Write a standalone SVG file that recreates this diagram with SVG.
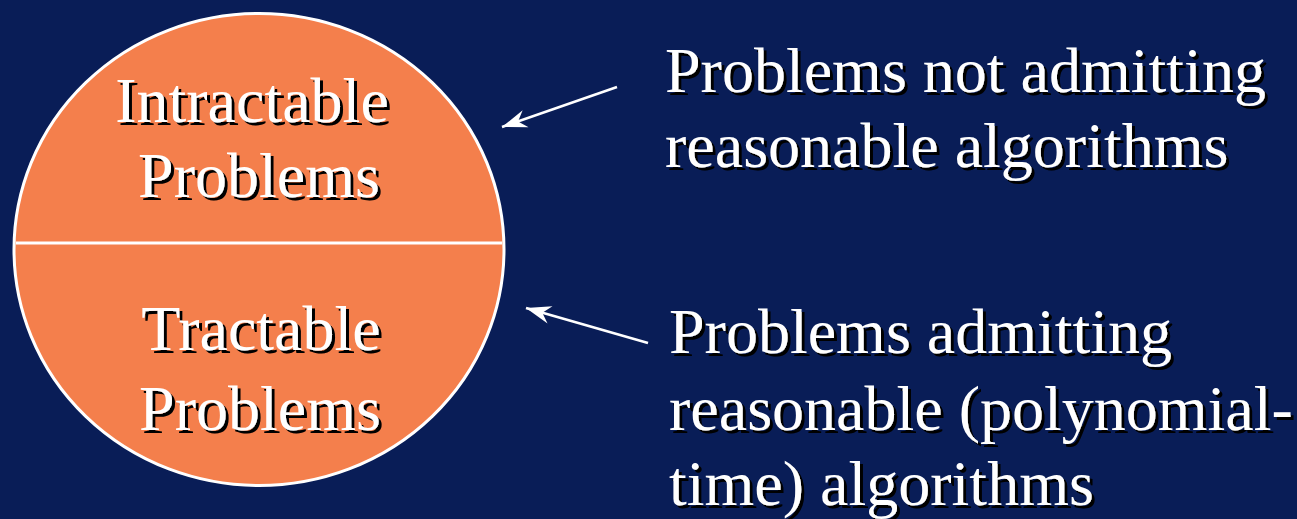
<svg xmlns="http://www.w3.org/2000/svg" width="1297" height="519" viewBox="0 0 1297 519">
  <style>
    .lbl { font-family: "Liberation Serif", "Times New Roman", serif; font-size: 64px; fill: #ffffff; filter: url(#drop); }
    .mid { text-anchor: middle; }
    .conn { stroke: #ffffff; stroke-width: 2.6; fill: none; }
  </style>
  <defs>
    <!-- hard black drop shadow under the lettering -->
    <filter id="drop" x="-5%" y="-20%" width="115%" height="150%">
      <feOffset in="SourceAlpha" dx="3" dy="3" result="off"/>
      <feFlood flood-color="#000000"/>
      <feComposite in2="off" operator="in" result="shade"/>
      <feMerge>
        <feMergeNode in="shade"/>
        <feMergeNode in="SourceGraphic"/>
      </feMerge>
    </filter>
    <marker id="barb" markerUnits="userSpaceOnUse" viewBox="-26 -10 28 20" markerWidth="28" markerHeight="20" refX="0" refY="0" orient="auto">
      <path d="M0,0 L-25,-9 L-17,0 L-25,9 Z" fill="#ffffff"/>
    </marker>
  </defs>

  <rect x="0" y="0" width="1297" height="519" fill="#091d57"/>

  <!-- problem space: intractable over tractable -->
  <g id="problem-space">
    <ellipse cx="259" cy="249.5" rx="245" ry="236" fill="#f47f4c" stroke="#ffffff" stroke-width="3"/>
    <line x1="16" y1="243" x2="502" y2="243" stroke="#ffffff" stroke-width="3"/>
  </g>

  <g id="intractable">
    <text class="lbl mid" x="252" y="122">Intractable</text>
    <text class="lbl mid" x="259" y="197">Problems</text>
  </g>

  <g id="tractable">
    <text class="lbl mid" x="261" y="350">Tractable</text>
    <text class="lbl mid" x="260" y="430">Problems</text>
  </g>

  <g id="note-unreasonable">
    <text class="lbl" x="665" y="92">Problems not admitting</text>
    <text class="lbl" x="665" y="167">reasonable algorithms</text>
  </g>

  <g id="note-reasonable">
    <text class="lbl" x="669" y="353">Problems admitting</text>
    <text class="lbl" x="669" y="430">reasonable (polynomial-</text>
    <text class="lbl" x="669" y="505">time) algorithms</text>
  </g>

  <g id="connectors">
    <line class="conn" x1="617" y1="87" x2="502" y2="127" marker-end="url(#barb)"/>
    <line class="conn" x1="648" y1="343" x2="526" y2="308" marker-end="url(#barb)"/>
  </g>
</svg>
